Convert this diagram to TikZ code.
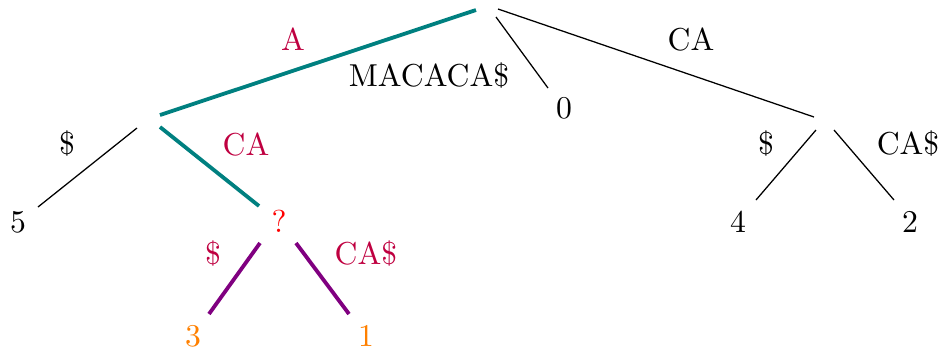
\documentclass[tikz,border=0pt]{standalone}
\begin{document}
\begin{tikzpicture}[x=0.3155pt,y=-0.3155pt,
  thinedge/.style={draw=black,line width=0.4pt},
  pathedge/.style={draw=teal,line width=1.2pt},
  subedge/.style={draw=violet,line width=1.2pt},
  txt/.style={anchor=base,inner sep=0pt},
  hilab/.style={txt,text=purple},
  leafo/.style={txt,text=orange}]
\useasboundingbox (0,0) rectangle (942,353);
% line end points
\coordinate (rL) at (476,10);
\coordinate (rB) at (496,17);
\coordinate (rR) at (498,9);
\coordinate (aT) at (160,115);
\coordinate (aL) at (137,128);
\coordinate (aR) at (160,127);
\coordinate (zT) at (548,88);
\coordinate (cT) at (814,117);
\coordinate (cL) at (816,130);
\coordinate (cR) at (834,130);
\coordinate (fT) at (38,207);
\coordinate (qT) at (259,206);
\coordinate (qL) at (260,243);
\coordinate (qR) at (296,243);
\coordinate (tT) at (209,314);
\coordinate (oT) at (349,314);
\coordinate (vT) at (756,200);
\coordinate (wT) at (894,200);
% edges
\draw[pathedge] (rL) -- (aT);
\draw[thinedge] (rB) -- (zT);
\draw[thinedge] (rR) -- (cT);
\draw[thinedge] (aL) -- (fT);
\draw[pathedge] (aR) -- (qT);
\draw[subedge] (qL) -- (tT);
\draw[subedge] (qR) -- (oT);
\draw[thinedge] (cL) -- (vT);
\draw[thinedge] (cR) -- (wT);
% leaves
\node[txt] (n0) at (564,118) {0};
\node[txt] (n5) at (18,232) {5};
\node[txt,text=red] (nq) at (279,232) {?};
\node[txt] (n4) at (738,232) {4};
\node[txt] (n2) at (910,232) {2};
\node[leafo] (n3) at (193,346) {3};
\node[leafo] (n1) at (366,346) {1};
% edge labels
\node[hilab] (lA) at (293,50) {A};
\node[txt] (lM) at (429,86) {MACACA\$};
\node[txt] (lCA) at (691,50) {CA};
\node[txt] (lD1) at (67,154) {\$};
\node[hilab] (lCA2) at (246,155) {CA};
\node[hilab] (lD2) at (213,264) {\$};
\node[hilab] (lCAD) at (366,264) {CA\$};
\node[txt] (lD3) at (766,154) {\$};
\node[txt] (lCAD2) at (908,154) {CA\$};
\end{tikzpicture}
\end{document}
